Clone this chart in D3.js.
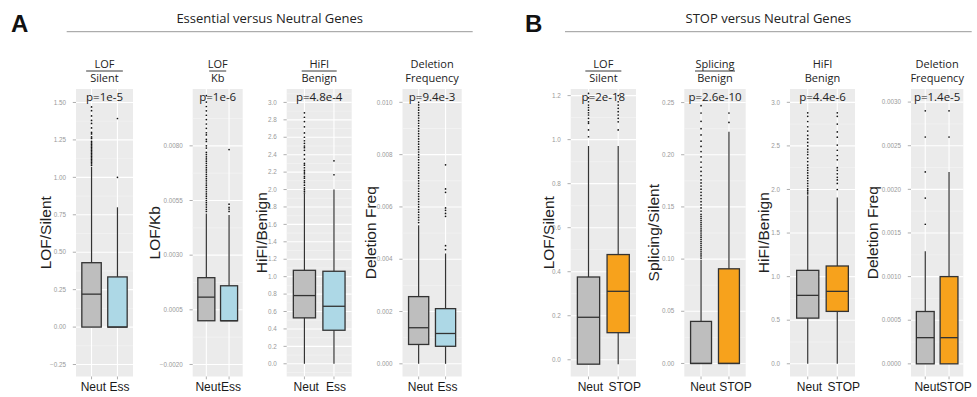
<!DOCTYPE html>
<html>
<head>
<meta charset="utf-8">
<script src="https://cdn.jsdelivr.net/npm/d3@7"></script>
<style>
  body { margin: 0; background: #fff; }
  svg { display: block; }
</style>
</head>
<body>
<div id="chart"></div>
<script>
// ---- data ----
const groupsA = ["Neut", "Ess"];
const groupsB = ["Neut", "STOP"];

const headersA = [["LOF", "Silent"], ["LOF", "Kb"], ["HiFI", "Benign"], ["Deletion", "Frequency"]];
const headersB = [["LOF", "Silent"], ["Splicing", "Benign"], ["HiFI", "Benign"], ["Deletion", "Frequency"]];

const yTitlesA = ["LOF/Silent", "LOF/Kb", "HiFI/Benign", "Deletion Freq"];
const yTitlesB = ["LOF/Silent", "Splicing/Silent", "HiFI/Benign", "Deletion Freq"];

const pValuesA = ["p=1e-5", "p=1e-6", "p=4.8e-4", "p=9.4e-3"];
const pValuesB = ["p=2e-18", "p=2.6e-10", "p=4.4e-6", "p=1.4e-5"];

// [lower whisker, q1, median, q3, upper whisker] per group
const boxStatsA = [
    [[0, 0, 0.22, 0.43, 1.07], [0, 0, 0, 0.335, 0.80]],
    [[0, 0, 0.00108, 0.00197, 0.0049], [0, 0, 0, 0.0016, 0.00484]],
    [[0, 0.527, 0.783, 1.073, 1.95], [0, 0.385, 0.66, 1.062, 2.0]],
    [[0, 0.00074, 0.00138, 0.00257, 0.0053], [0, 0.00067, 0.00116, 0.00211, 0.00422]]
];
const boxStatsB = [
    [[-0.02, -0.02, 0.193, 0.376, 0.971], [-0.02, 0.123, 0.311, 0.478, 0.971]],
    [[0, 0, 0, 0.0403, 0.0993], [0, 0, 0, 0.0907, 0.222]],
    [[0, 0.524, 0.785, 1.072, 1.93], [0, 0.601, 0.831, 1.122, 1.908]],
    [[0, 0, 0.0003, 0.0006, 0.00129], [0, 0, 0.0003, 0.001, 0.0022]]
];

const outliersA = [
    [[1.08, 1.09, 1.10, 1.11, 1.12, 1.13, 1.14, 1.15, 1.16, 1.17, 1.18, 1.19, 1.20, 1.21, 1.22, 1.23, 1.24, 1.26, 1.27, 1.29, 1.30, 1.33, 1.36, 1.38, 1.41, 1.445, 1.47],
     [1.0, 1.393]],
    [[0.0050, 0.0051, 0.0052, 0.0053, 0.0054, 0.0055, 0.0056, 0.0057, 0.0058, 0.0059, 0.0060, 0.0061, 0.0062, 0.0063, 0.0064, 0.0065, 0.0066, 0.0067, 0.0068, 0.0069, 0.0070, 0.0071, 0.0072, 0.0073, 0.0074, 0.0075, 0.0076, 0.0077, 0.0079, 0.0080, 0.0082, 0.0083, 0.0085, 0.0086, 0.0088, 0.0090, 0.0092, 0.0094, 0.0096, 0.0098, 0.0100, 0.0103],
     [0.0050, 0.00511, 0.00519, 0.00533, 0.00783]],
    [[1.96, 1.98, 2.0, 2.02, 2.05, 2.08, 2.1, 2.13, 2.15, 2.18, 2.2, 2.22, 2.25, 2.28, 2.3, 2.35, 2.4, 2.45, 2.48, 2.5, 2.53, 2.56, 2.6, 2.65, 2.72, 2.78, 2.83, 2.88],
     [2.17, 2.33]],
    [[0.0054, 0.0055, 0.0056, 0.0057, 0.0058, 0.0059, 0.0060, 0.0061, 0.0062, 0.0063, 0.0064, 0.0065, 0.0066, 0.0067, 0.0068, 0.0069, 0.0070, 0.0071, 0.0072, 0.0073, 0.0074, 0.0075, 0.0076, 0.0077, 0.0078, 0.0079, 0.0080, 0.0081, 0.0082, 0.0083, 0.0084, 0.0085, 0.0086, 0.0087, 0.0088, 0.0089, 0.0090, 0.0091, 0.0092, 0.0093, 0.0094, 0.0095, 0.0096, 0.0097, 0.0098, 0.0099, 0.0100],
     [0.00437, 0.00452, 0.00564, 0.00575, 0.00587, 0.00596, 0.00656, 0.00669, 0.00761]]
];
const outliersB = [
    [[1.013, 1.044, 1.074, 1.081, 1.097, 1.112, 1.122, 1.134, 1.146, 1.157, 1.172, 1.19, 1.21],
     [1.044, 1.081, 1.097, 1.112, 1.127, 1.142, 1.157, 1.172, 1.2]],
    [[0.101, 0.103, 0.105, 0.107, 0.109, 0.111, 0.113, 0.115, 0.117, 0.119, 0.121, 0.123, 0.125, 0.127, 0.129, 0.131, 0.133, 0.135, 0.137, 0.139, 0.141, 0.143, 0.146, 0.149, 0.152, 0.155, 0.158, 0.161, 0.164, 0.167, 0.17, 0.173, 0.176, 0.18, 0.184, 0.188, 0.193, 0.198, 0.203, 0.208, 0.213, 0.219, 0.225, 0.232, 0.24, 0.247],
     [0.231, 0.240]],
    [[1.95, 1.97, 1.99, 2.01, 2.04, 2.07, 2.1, 2.13, 2.16, 2.19, 2.22, 2.25, 2.28, 2.32, 2.36, 2.4, 2.43, 2.46, 2.5, 2.54, 2.58, 2.62, 2.67, 2.72, 2.78, 2.84, 2.88],
     [2.0, 2.07, 2.11, 2.14, 2.18, 2.22, 2.25, 2.34, 2.39, 2.45, 2.51, 2.6, 2.66, 2.75, 2.84, 2.88]],
    [[0.0016, 0.0019, 0.0022, 0.0026, 0.0029],
     [0.0026, 0.0029]]
];

const yTicksA = [
    [-0.25, 0, 0.25, 0.5, 0.75, 1.0, 1.25, 1.5],
    [-0.002, 0.0005, 0.003, 0.0055, 0.008],
    [0, 0.2, 0.4, 0.6, 0.8, 1.0, 1.2, 1.4, 1.6, 1.8, 2.0, 2.2, 2.4, 2.6, 2.8, 3.0],
    [0, 0.002, 0.004, 0.006, 0.008, 0.010]
];
const yTicksB = [
    [0, 0.2, 0.4, 0.6, 0.8, 1.0, 1.2],
    [0, 0.05, 0.10, 0.15, 0.20, 0.25],
    [0, 0.5, 1.0, 1.5, 2.0, 2.5, 3.0],
    [0, 0.0005, 0.001, 0.0015, 0.002, 0.0025, 0.003]
];
const yFormatsA = [".2f", ".4f", ".1f", ".3f"];
const yFormatsB = [".1f", ".2f", ".1f", ".4f"];
const yDomainsA = [[-0.33, 1.59], [-0.00255, 0.0106], [-0.146, 3.154], [-0.000485, 0.01051]];
const yDomainsB = [[-0.076, 1.23], [-0.0125, 0.263], [-0.146, 3.153], [-0.000145, 0.00315]];

// ---- layout ----
const W = 977, H = 397;
const panelTop = 89, panelBottom = 376.5;
const panelXA = [[76, 133], [192.7, 242.7], [286.7, 351.7], [402.5, 461.7]];
const panelXB = [[570.7, 636], [684.3, 745.7], [790, 855], [911, 963.3]];
const yTitleXA = [46, 155, 261.5, 371];
const yTitleXB = [549, 654, 764, 873];
const ruleWA = [36.7, 17, 35, 0];
const ruleWB = [36, 40, 0, 0];
const labelShift = { Neut: 1.8, Ess: 2, STOP: 6.5 };
const fillColors = { Neut: "#BEBEBE", Ess: "#ADD8E6", STOP: "#F7A21C" };
const strokeCol = "#333";

const svg = d3.select("#chart").append("svg")
    .attr("width", W)
    .attr("height", H);

// section headings
function sectionHeading(letter, lx, title, x1, x2) {
    svg.append("text")
        .attr("x", lx).attr("y", 32)
        .attr("font-family", "Liberation Sans, Arial, sans-serif")
        .attr("font-weight", "bold")
        .attr("font-size", 24)
        .attr("fill", "#111")
        .text(letter);
    svg.append("text")
        .attr("x", (x1 + x2) / 2).attr("y", 23.3)
        .attr("text-anchor", "middle")
        .attr("font-family", "Open Sans, sans-serif")
        .attr("font-size", 13)
        .attr("fill", "#222")
        .text(title);
    svg.append("line")
        .attr("x1", x1).attr("x2", x2)
        .attr("y1", 31.7).attr("y2", 31.7)
        .attr("stroke", "#999")
        .attr("stroke-width", 1);
}
sectionHeading("A", 11, "Essential versus Neutral Genes", 66.7, 472.7);
sectionHeading("B", 525, "STOP versus Neutral Genes", 565, 971.7);

function drawPanel(groups, header, yTitle, pText, stats, outs, ticks, fmt, domain, px, titleX, ruleW) {
    const [left, right] = px;
    const x = d3.scalePoint().domain(groups).range([left, right]).padding(0.6);
    const y = d3.scaleLinear().domain(domain).range([panelBottom, panelTop]);
    const boxW = x.step() * 0.75;
    const g = svg.append("g");

    // panel background
    g.append("rect")
        .attr("x", left).attr("y", panelTop)
        .attr("width", right - left).attr("height", panelBottom - panelTop)
        .attr("fill", "#EBEBEB");

    // minor grid lines (midpoints between breaks)
    const tstep = ticks[1] - ticks[0];
    const minors = [];
    for (let k = -1; k < ticks.length; k++) {
        const m = ticks[0] + tstep * (k + 0.5);
        if (m > domain[0] && m < domain[1]) minors.push(m);
    }
    g.selectAll(".minor")
        .data(minors)
        .enter().append("line")
        .attr("x1", left).attr("x2", right)
        .attr("y1", d => y(d)).attr("y2", d => y(d))
        .attr("stroke", "#F5F5F5")
        .attr("stroke-width", 0.6);

    g.selectAll(".major")
        .data(ticks)
        .enter().append("line")
        .attr("x1", left).attr("x2", right)
        .attr("y1", d => y(d)).attr("y2", d => y(d))
        .attr("stroke", "#fff")
        .attr("stroke-width", 1.1);

    g.selectAll(".vgrid")
        .data(groups)
        .enter().append("line")
        .attr("x1", d => x(d)).attr("x2", d => x(d))
        .attr("y1", panelTop).attr("y2", panelBottom)
        .attr("stroke", "#fff")
        .attr("stroke-width", 1.1);

    // y axis ticks + labels
    const f = d3.format(fmt);
    g.selectAll(".ytick")
        .data(ticks)
        .enter().append("line")
        .attr("x1", left - 3.2).attr("x2", left)
        .attr("y1", d => y(d)).attr("y2", d => y(d))
        .attr("stroke", "#999")
        .attr("stroke-width", 0.8);
    g.selectAll(".ylabel")
        .data(ticks)
        .enter().append("text")
        .attr("x", left - 10)
        .attr("y", d => y(d))
        .attr("dy", "0.35em")
        .attr("text-anchor", "end")
        .attr("font-family", "Liberation Sans, Arial, sans-serif")
        .attr("font-size", 6.3)
        .attr("fill", "#999")
        .text(d => f(d));

    // x axis ticks + labels
    g.selectAll(".xtick")
        .data(groups)
        .enter().append("line")
        .attr("x1", d => x(d)).attr("x2", d => x(d))
        .attr("y1", panelBottom).attr("y2", panelBottom + 2.8)
        .attr("stroke", "#999")
        .attr("stroke-width", 0.8);
    g.selectAll(".xlabel")
        .data(groups)
        .enter().append("text")
        .attr("x", d => x(d) + labelShift[d])
        .attr("y", 390.5)
        .attr("text-anchor", "middle")
        .attr("font-family", "Liberation Sans, Arial, sans-serif")
        .attr("font-size", 12)
        .attr("fill", "#1a1a1a")
        .text(d => d);

    // y title
    const yc = (panelTop + panelBottom) / 2;
    g.append("text")
        .attr("transform", `translate(${titleX},${yc}) rotate(-90)`)
        .attr("dy", "0.35em")
        .attr("text-anchor", "middle")
        .attr("font-family", "Liberation Sans, Arial, sans-serif")
        .attr("font-size", 15.5)
        .attr("fill", "#222")
        .text(yTitle);

    // whiskers
    g.selectAll(".whisker")
        .data(groups)
        .enter().append("line")
        .attr("x1", d => x(d)).attr("x2", d => x(d))
        .attr("y1", (d, j) => y(stats[j][0]))
        .attr("y2", (d, j) => y(stats[j][4]))
        .attr("stroke", strokeCol)
        .attr("stroke-width", 1.2);

    // boxes
    g.selectAll(".box")
        .data(groups)
        .enter().append("rect")
        .attr("x", d => x(d) - boxW / 2)
        .attr("y", (d, j) => y(stats[j][3]))
        .attr("width", boxW)
        .attr("height", (d, j) => y(stats[j][1]) - y(stats[j][3]))
        .attr("fill", d => fillColors[d])
        .attr("stroke", strokeCol)
        .attr("stroke-width", 1.3);

    g.selectAll(".median")
        .data(groups)
        .enter().append("line")
        .attr("x1", d => x(d) - boxW / 2).attr("x2", d => x(d) + boxW / 2)
        .attr("y1", (d, j) => y(stats[j][2]))
        .attr("y2", (d, j) => y(stats[j][2]))
        .attr("stroke", strokeCol)
        .attr("stroke-width", 1.3);

    // outliers
    groups.forEach((grp, j) => {
        g.selectAll(null)
            .data(outs[j])
            .enter().append("circle")
            .attr("cx", x(grp))
            .attr("cy", d => y(d))
            .attr("r", 0.85)
            .attr("fill", "#111");
    });

    // p-value
    const cx = (left + right) / 2;
    g.append("text")
        .attr("x", cx).attr("y", 100.5)
        .attr("text-anchor", "middle")
        .attr("font-family", "Open Sans, sans-serif")
        .attr("font-size", 11.5)
        .attr("fill", "#222")
        .text(pText);

    // header (fraction)
    [header[0], header[1]].forEach((t, k) => {
        g.append("text")
            .attr("x", cx).attr("y", k === 0 ? 67.5 : 82.3)
            .attr("text-anchor", "middle")
            .attr("font-family", "Open Sans, sans-serif")
            .attr("font-size", 11)
            .attr("fill", "#222")
            .text(t);
    });
    if (ruleW > 0) {
        g.append("line")
            .attr("x1", cx - ruleW / 2).attr("x2", cx + ruleW / 2)
            .attr("y1", 71).attr("y2", 71)
            .attr("stroke", "#222")
            .attr("stroke-width", 0.9);
    }
}

for (let i = 0; i < 4; i++) {
    drawPanel(groupsA, headersA[i], yTitlesA[i], pValuesA[i], boxStatsA[i], outliersA[i],
        yTicksA[i], yFormatsA[i], yDomainsA[i], panelXA[i], yTitleXA[i], ruleWA[i]);
    drawPanel(groupsB, headersB[i], yTitlesB[i], pValuesB[i], boxStatsB[i], outliersB[i],
        yTicksB[i], yFormatsB[i], yDomainsB[i], panelXB[i], yTitleXB[i], ruleWB[i]);
}
</script>
</body>
</html>
